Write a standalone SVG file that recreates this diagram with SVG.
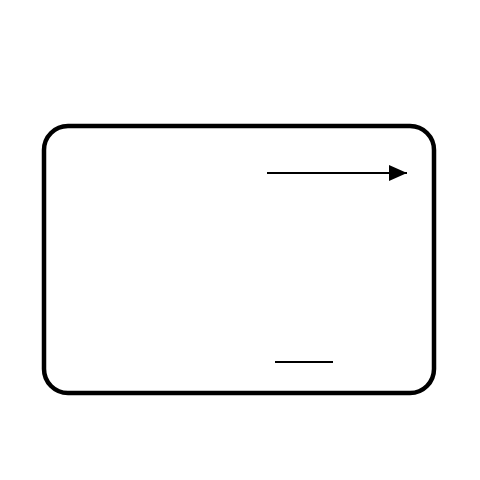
<svg xmlns="http://www.w3.org/2000/svg" width="480" height="480" viewBox="0 0 480 480">
<style>
.frame{fill:#fff;stroke:#000;stroke-width:4.5}
.ln{stroke:#000;stroke-width:2;fill:none}
</style>
<defs>
<marker id="ah" markerUnits="userSpaceOnUse" markerWidth="20" markerHeight="18" refX="18" refY="8" orient="auto">
<path d="M0,0 L18,8 L0,16 Z" fill="#000"/>
</marker>
</defs>
<rect width="480" height="480" fill="#fff"/>
<g id="box">
<rect class="frame" x="44" y="126" width="390" height="267" rx="24" ry="24"/>
</g>
<g id="connectors">
<line class="ln" x1="267" y1="173" x2="407" y2="173" marker-end="url(#ah)"/>
<line class="ln" x1="275" y1="362" x2="333" y2="362"/>
</g>
</svg>
